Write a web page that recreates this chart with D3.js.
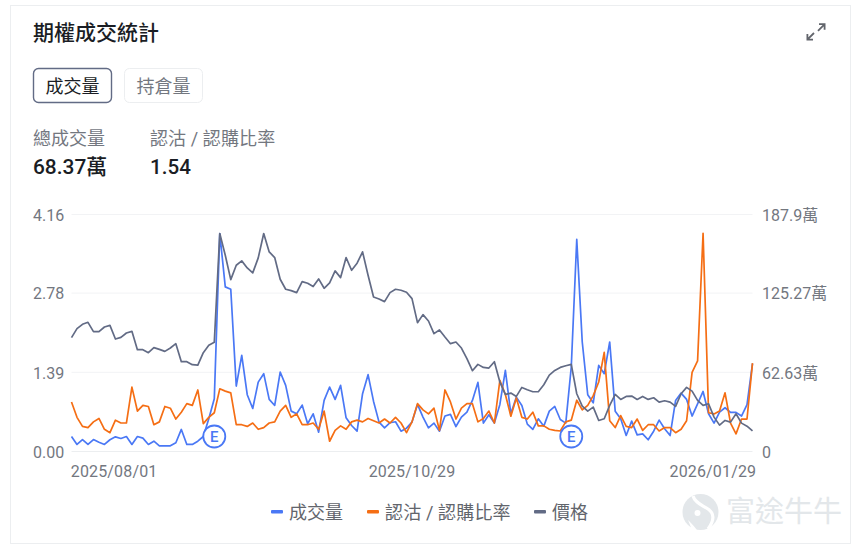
<!DOCTYPE html>
<html><head><meta charset="utf-8">
<script src="https://cdn.jsdelivr.net/npm/d3@7"></script>
<style>html,body{margin:0;padding:0;background:#fff}svg{display:block}text{font-family:Roboto,"Noto Sans CJK TC",sans-serif}</style>
</head><body><div id="c"></div>
<script>
const volume=[11.9,5.6,9.5,5.6,9.5,7.4,5.6,9.3,11.6,10.3,11.9,5.6,11.9,10.6,5.6,8.2,4.5,4.5,4.5,6.9,17.5,5.6,5.6,8.2,11.9,25.9,41.8,172.8,130.5,128.6,51.9,76.2,45.0,34.1,55.0,61.7,41.3,36.5,63.0,52.4,32.0,29.9,36.8,22.0,29.9,15.3,40.5,51.1,41.3,52.4,26.7,20.6,16.1,45.8,60.9,39.7,23.3,18.8,22.8,23.6,16.1,18.5,23.3,37.3,27.3,18.8,22.5,16.1,28.1,29.4,19.8,27.3,31.2,40.5,54.8,22.5,29.1,22.5,37.3,64.3,29.9,43.1,36.5,21.7,17.5,25.9,20.1,32.0,35.7,25.4,22.5,67.0,168.1,86.8,45.0,38.6,68.3,61.7,86.8,32.0,25.9,12.7,24.1,13.2,14.0,9.3,16.1,24.9,18.0,12.7,40.5,46.3,41.3,28.1,37.8,47.6,29.9,22.5,31.2,34.7,31.0,31.0,28.1,37.1,69.6];
const ratio=[.87,.60,.44,.42,.52,.58,.39,.33,.55,.50,.50,1.13,.71,.81,.79,.47,.52,.79,.76,.57,.69,.84,.81,1.08,.49,.60,.68,1.10,1.06,1.03,.47,.47,.44,.50,.39,.42,.50,.52,.71,.81,.60,.66,.47,.47,.50,.39,.71,.18,.37,.45,.39,.52,.55,.52,.58,.54,.50,.57,.50,.60,.50,.33,.52,.84,.73,.66,.76,.37,1.08,.87,.57,.76,.84,.84,.52,.58,.71,.50,1.25,1.00,.62,.94,.60,.57,.69,.45,.45,.39,.37,.36,.52,.55,.90,.73,.81,.98,1.22,1.74,.54,.42,.63,.44,.42,.57,.37,.47,.47,.36,.42,.42,.33,.39,.54,1.39,1.59,3.83,.68,.66,.71,1.03,.50,.31,.57,.57,1.55];
const price=[34.1,36.8,38.1,38.7,35.9,35.9,37.3,37.8,33.7,34.2,35.5,36.0,30.5,30.5,29.6,31.1,30.6,30.0,31.0,32.3,26.9,26.9,26.0,25.9,29.6,31.8,32.7,65.3,58.8,51.5,55.8,57.1,55.0,53.5,58.0,65.3,59.8,58.1,51.6,48.6,48.2,47.6,50.9,50.4,49.4,51.7,48.9,50.5,54.1,52.1,58.1,54.3,56.4,59.8,52.8,46.3,45.7,44.9,47.6,48.6,48.3,47.7,45.8,38.6,41.0,39.1,35.3,36.4,34.3,32.3,32.8,31.0,27.8,24.2,26.1,25.2,25.0,26.9,20.8,17.1,17.5,16.5,19.2,18.5,17.9,17.9,20.0,22.9,24.3,25.2,25.7,26.1,17.3,13.6,12.1,13.3,9.3,9.8,13.8,17.1,15.6,16.5,16.6,15.6,16.5,15.6,16.1,14.8,15.2,14.8,13.5,17.3,19.2,18.1,15.3,13.8,14.3,10.3,7.9,9.3,8.8,11.3,8.5,7.6,6.2];
const leftTicks=[0,1.39,2.78,4.16];
const leftLabels=["0.00","1.39","2.78","4.16"];
const rightTicks=[0,62.63,125.27,187.9];
const rightLabels=["0","62.63萬","125.27萬","187.9萬"];
const dateIdx=[0,62,124];
const dateLabels=["2025/08/01","2025/10/29","2026/01/29"];
const earningsIdx=[26,91];
const legendNames=["成交量","認沽 / 認購比率","價格"];
const colors=["#4a78f5","#f56e14","#626b85"];

const W=862,H=549,L=71.5,R=752.5,T=214.5,B=451.5;
const svg=d3.select("#c").append("svg").attr("width",W).attr("height",H);
svg.append("rect").attr("x",10.5).attr("y",5.5).attr("width",840).attr("height",538).attr("fill","#fff").attr("stroke","#eceef0");

const txt=(x,y,s,size,fill,weight,anchor)=>svg.append("text").attr("x",x).attr("y",y).text(s)
  .attr("font-size",size).attr("fill",fill).attr("font-weight",weight||400).attr("text-anchor",anchor||"start");

txt(33,39.5,"期權成交統計",21,"#1a1d24",500);
// expand icon
const icon=svg.append("g").attr("fill","none").attr("stroke","#62656c").attr("stroke-width",1.8);
icon.append("path").attr("d","M819 24.2H824.6V29.8M824.2 24.6L818 30.8");
icon.append("path").attr("d","M813 39.6H807.4V34M807.8 39.2L814 33");

svg.append("rect").attr("x",33.5).attr("y",68.5).attr("width",78).attr("height",34).attr("rx",5).attr("fill","#fff").attr("stroke","#626b85").attr("stroke-width",1.4);
txt(72.5,92.5,"成交量",18,"#1a1d24",400,"middle");
svg.append("rect").attr("x",124.5).attr("y",68.5).attr("width",78).attr("height",34).attr("rx",5).attr("fill","#fff").attr("stroke","#eceef0");
txt(163.5,92.5,"持倉量",18,"#73777f",400,"middle");

txt(33,145,"總成交量",18,"#73777f");
txt(150,145,"認沽 / 認購比率",18,"#73777f").attr("letter-spacing",0.1);
txt(33,173.5,"68.37萬",20.9,"#1a1d24",500);
txt(150,173.5,"1.54",20.6,"#1a1d24",500);

const x=d3.scaleLinear().domain([0,volume.length-1]).range([L,R]);
const yL=d3.scaleLinear().domain([0,4.16]).range([B,T]);
const yR=d3.scaleLinear().domain([0,187.9]).range([B,T]);
const yP=d3.scaleLinear().domain([0,71]).range([B,T]);

const grid=svg.append("g");
grid.selectAll("line").data(leftTicks).join("line")
  .attr("x1",L).attr("x2",R).attr("y1",d=>yL(d)).attr("y2",d=>yL(d))
  .attr("stroke",d=>d===0?"#eceef0":"#f2f3f5").attr("stroke-width",1);

leftTicks.forEach((d,i)=>txt(33,yL(d)+6.3,leftLabels[i],16,"#73777f"));
rightTicks.forEach((d,i)=>txt(762,yR(d)+6,rightLabels[i],16,"#73777f"));
const anchors=["start","middle","end"];
const dx=[-0.7,0,3.7];
dateIdx.forEach((d,i)=>txt(x(d)+dx[i],477,dateLabels[i],16,"#73777f",400,anchors[i]).attr("letter-spacing",0.15));

const line=(ys,data)=>d3.line().x((d,i)=>x(i)).y(d=>ys(d))(data);
[[volume,yR],[ratio,yL],[price,yP]].forEach(([data,ys],i)=>{
  svg.append("path").attr("d",line(ys,data)).attr("fill","none").attr("stroke",colors[i])
    .attr("stroke-width",1.7).attr("stroke-linejoin","round");
});

earningsIdx.forEach(i=>{
  svg.append("circle").attr("cx",x(i)).attr("cy",B-15).attr("r",11).attr("fill","#fff").attr("stroke",colors[0]).attr("stroke-width",1.8);
  txt(x(i),B-9.8,"E",15,colors[0],500,"middle");
});

// legend
const lx=[271,367,534], tx=[289,385,552];
legendNames.forEach((n,i)=>{
  svg.append("rect").attr("x",lx[i]).attr("y",510).attr("width",12).attr("height",3.5).attr("rx",1).attr("fill",colors[i]);
  txt(tx[i],519,n,18,"#62656c").attr("letter-spacing",i===1?0.15:0);
});

// watermark
const wm=svg.append("g");
wm.append("circle").attr("cx",700.5).attr("cy",512).attr("r",18).attr("fill","#e3e7ea");
wm.append("path").attr("d","M693 496 C695 503 702 505 708 509 C714 513 715 520 708 529").attr("fill","none").attr("stroke","#fff").attr("stroke-width",3.2);
wm.append("path").attr("d","M688 520 C692 524 696 528 698 532 L692 530 Z").attr("fill","#fff");
wm.append("circle").attr("cx",697.5).attr("cy",513).attr("r",3).attr("fill","#fff");
txt(726,522,"富途牛牛",29,"#e3e7ea",400);
</script></body></html>
